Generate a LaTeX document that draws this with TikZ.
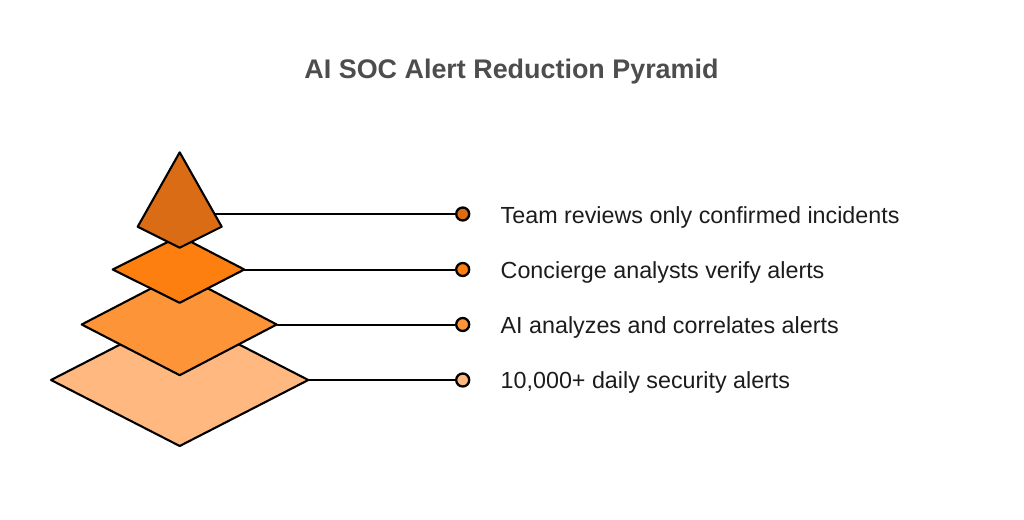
\documentclass[tikz,border=0pt]{standalone}
\usepackage{fontspec}
\setmainfont{Liberation Sans}
\definecolor{c1}{RGB}{217,108,20}
\definecolor{c2}{RGB}{253,127,16}
\definecolor{c3}{RGB}{253,148,56}
\definecolor{c4}{RGB}{254,184,128}
\definecolor{titlegrey}{RGB}{77,77,77}
\definecolor{textblack}{RGB}{28,28,28}
\begin{document}
\begin{tikzpicture}[x=1pt,y=-1pt,
  layer/.style={draw=black,line width=2.1pt,line join=round},
  link/.style={draw=black,line width=2pt},
  dotnode/.style={circle,draw=black,line width=2.3pt,minimum size=13pt,inner sep=0pt},
  label/.style={anchor=base west,text=textblack,font=\fontsize{23.3}{26}\selectfont,inner sep=0pt}]
\useasboundingbox (0,0) rectangle (1024,519);
\node[text=titlegrey,font=\bfseries\fontsize{26.9}{30}\selectfont] (title) at (511.5,72) {AI SOC Alert Reduction Pyramid};
% anchor coordinates on shapes
\coordinate (s1) at (214.5,214);
\coordinate (s2) at (244.3,269.5);
\coordinate (s3) at (276.7,324.5);
\coordinate (s4) at (308.3,380);
% dots
\node[dotnode,fill=c1] (d1) at (462.7,214) {};
\node[dotnode,fill=c2] (d2) at (462.7,269.5) {};
\node[dotnode,fill=c3] (d3) at (462.7,324.5) {};
\node[dotnode,fill=c4] (d4) at (462.7,380) {};
% connectors
\draw[link] (s1) -- (d1);
\draw[link] (s2) -- (d2);
\draw[link] (s3) -- (d3);
\draw[link] (s4) -- (d4);
% layers (bottom to top)
\draw[layer,fill=c4] (51,380) -- (179.7,314) -- (s4) -- (179.7,446) -- cycle;
\draw[layer,fill=c3] (81.7,324.5) -- (179.7,273.6) -- (s3) -- (179.7,375.2) -- cycle;
\draw[layer,fill=c2] (112.7,269.5) -- (179.7,236) -- (s2) -- (179.7,302.8) -- cycle;
\draw[layer,fill=c1] (179.7,152.3) -- (221.7,226.7) -- (179.7,247.7) -- (137.7,226.7) -- cycle;
% labels
\node[label] (t1) at (500.5,223) {Team reviews only confirmed incidents};
\node[label] (t2) at (500.5,278) {Concierge analysts verify alerts};
\node[label] (t3) at (500.5,333) {AI analyzes and correlates alerts};
\node[label] (t4) at (500.5,388.3) {10,000+ daily security alerts};
\end{tikzpicture}
\end{document}
